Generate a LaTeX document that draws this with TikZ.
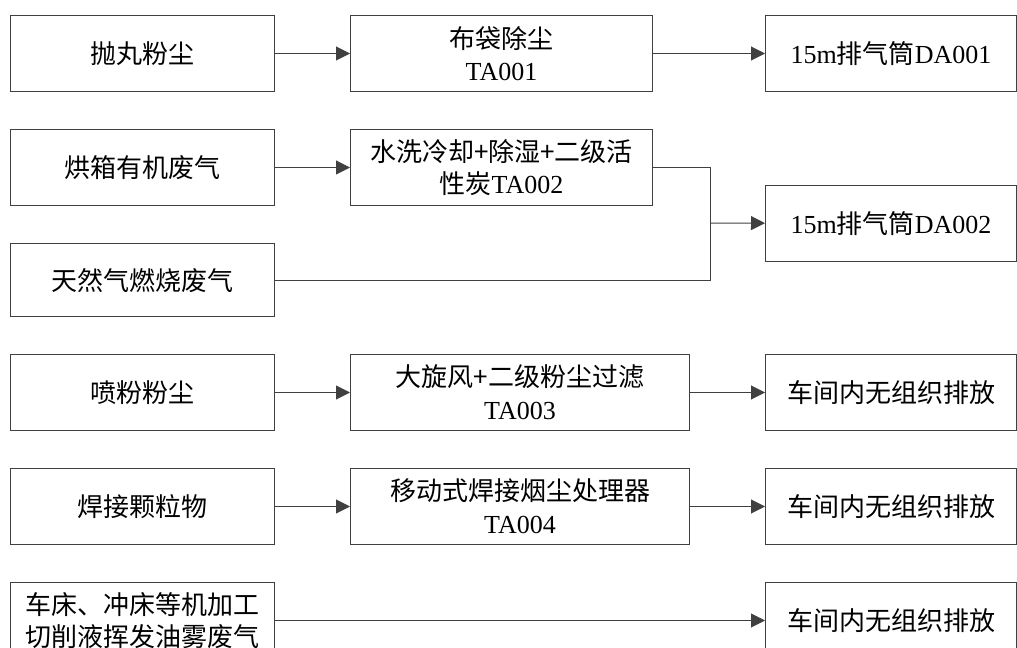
\documentclass[tikz,border=0pt]{standalone}
\usepackage{fontspec}
\setmainfont{Liberation Serif}
\newfontfamily\cjk{Noto Sans CJK SC}
\usepackage{tikz}
\usetikzlibrary{arrows.meta}
\definecolor{lnclr}{HTML}{404040}
\tikzset{
	box/.style={draw=lnclr, line width=0.75pt, anchor=north west, inner sep=0pt, minimum height=57pt, align=center, font=\fontsize{19.5}{24.5}\selectfont},
	srcbox/.style={box, minimum width=198pt},
	trtbox/.style={box, minimum width=226.5pt},
	widebox/.style={box, minimum width=254.25pt},
	outbox/.style={box, minimum width=188.25pt},
	arr/.style={draw=lnclr, line width=0.75pt, -{Triangle[length=10.5pt,width=10.5pt]}},
	ln/.style={draw=lnclr, line width=0.75pt}
}

\begin{document}
\begin{tikzpicture}[x=0.75pt,y=-0.75pt]
			\clip (0,0) rectangle (1017,648);
			% sources
			\node[srcbox] (shot) at (10,15) {\cjk 抛丸粉尘};
			\node[srcbox] (oven) at (10,129) {\cjk 烘箱有机废气};
			\node[srcbox, minimum height=55pt] (gas) at (10,243) {\cjk 天然气燃烧废气};
			\node[srcbox] (spray) at (10,354) {\cjk 喷粉粉尘};
			\node[srcbox] (weld) at (10,468) {\cjk 焊接颗粒物};
			\node[srcbox] (mach) at (10,582) {\cjk 车床、冲床等机加工\\\cjk 切削液挥发油雾废气};
			% treatment
			\node[trtbox] (ta1) at (350,15) {\cjk 布袋除尘\\TA001};
			\node[trtbox] (ta2) at (350,129) {\cjk 水洗冷却+除湿+二级活\\{\cjk 性炭}TA002};
			\node[widebox] (ta3) at (350,354) {\cjk 大旋风+二级粉尘过滤\\TA003};
			\node[widebox] (ta4) at (350,468) {\cjk 移动式焊接烟尘处理器\\TA004};
			% outlets
			\node[outbox] (da1) at (765,15) {15m{\cjk 排气筒}DA001};
			\node[outbox] (da2) at (765,185) {15m{\cjk 排气筒}DA002};
			\node[outbox] (out3) at (765,354) {\cjk 车间内无组织排放};
			\node[outbox] (out4) at (765,468) {\cjk 车间内无组织排放};
			\node[outbox] (out5) at (765,582) {\cjk 车间内无组织排放};
			\coordinate (jn) at (710,223);

			\draw[arr] (shot) -- (ta1);
			\draw[arr] (ta1) -- (da1);
			\draw[arr] (oven) -- (ta2);
			\draw[ln] (ta2.east) -| (jn);
			\draw[ln] (gas.east) -| (jn);
			\draw[arr] (jn) -- (da2);
			\draw[arr] (spray) -- (ta3);
			\draw[arr] (ta3) -- (out3);
			\draw[arr] (weld) -- (ta4);
			\draw[arr] (ta4) -- (out4);
			\draw[arr] (mach) -- (out5);
		\end{tikzpicture}
\end{document}
